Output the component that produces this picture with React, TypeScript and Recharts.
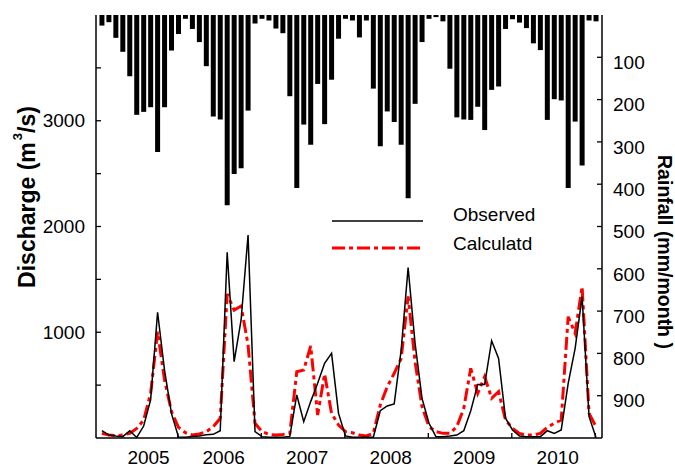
import React from 'react';
import { ComposedChart, Bar, Line, XAxis, YAxis, Legend } from 'recharts';

// month index 0..71 (monthly series, 2005 .. 2010)
const monthIndex = Array.from({ length: 72 }, (_, i) => i);

const rainfall = [
  25, 17, 54, 87, 145, 236, 229, 218, 324, 218, 84, 45,
  9, 33, 64, 121, 240, 247, 450, 376, 362, 226, 20, 9,
  13, 32, 43, 192, 409, 259, 307, 163, 258, 153, 56, 9,
  13, 53, 13, 174, 310, 228, 253, 307, 433, 210, 64, 9,
  5, 15, 127, 242, 247, 248, 217, 272, 177, 169, 33, 10,
  18, 31, 67, 83, 248, 199, 202, 409, 252, 356, 13, 15,
];

const observed = [
  69, 28, 19, 13, 69, 5, 113, 360, 1189, 640, 230, 10,
  8, 15, 20, 30, 35, 69, 1756, 722, 1116, 1920, 60, 13,
  8, 8, 8, 15, 407, 154, 344, 517, 706, 800, 233, 20,
  8, 8, 8, 8, 258, 303, 322, 832, 1611, 895, 375, 139,
  13, 13, 19, 28, 69, 258, 507, 507, 920, 753, 186, 76,
  19, 13, 13, 13, 69, 44, 76, 517, 848, 1336, 202, 5,
];

const calculated = [
  44, 28, 22, 28, 44, 91, 170, 422, 1005, 548, 249, 101,
  50, 28, 38, 60, 107, 186, 1362, 1210, 1248, 880, 139, 60,
  34, 28, 34, 44, 627, 643, 870, 217, 605, 233, 123, 60,
  50, 28, 19, 44, 312, 485, 612, 753, 1340, 720, 296, 107,
  60, 44, 44, 107, 281, 659, 422, 580, 375, 438, 170, 91,
  44, 28, 28, 44, 101, 139, 170, 1147, 990, 1431, 233, 107,
];

const yearLabels = ['2005', '2006', '2007', '2008', '2009', '2010'];
const yearLabelPos = [6.7, 17.5, 29.5, 41.5, 53.5, 65.5];
const yearTickPos = [10.9, 22.9, 34.9, 46.9, 58.9, 70.9];
const dischargeTicks = [500, 1000, 1500, 2000, 2500, 3000, 3500];
const rainTicks = [100, 200, 300, 400, 500, 600, 700, 800, 900];

const data = monthIndex.map((m, i) => ({
  m,
  rain: rainfall[i],
  obs: observed[i],
  calc: calculated[i],
}));

const FONT = '"Liberation Sans", Arial, Helvetica, sans-serif';
const xDomain = [-0.85, 71.86];
const xTicks = [...yearLabelPos, ...yearTickPos].sort((a, b) => a - b);
const RED_DASH = '13 4 4 4';

const XTick = (props: any) => {
  const { x, y, payload } = props;
  const v = payload.value;
  const li = yearLabelPos.indexOf(v);
  if (li >= 0) {
    return (
      <text x={x} y={y + 19} dy="0.355em" textAnchor="middle" fontSize={19} fontFamily={FONT} fill="#000">
        {yearLabels[li]}
      </text>
    );
  }
  return <line x1={x} x2={x} y1={y} y2={y - 5} stroke="#000" strokeWidth={1.3} />;
};

const LeftTick = (props: any) => {
  const { x, y, payload } = props;
  const v = payload.value;
  return (
    <g>
      <line x1={x} x2={x + 5} y1={y} y2={y} stroke="#000" strokeWidth={1.3} />
      {v % 1000 === 0 ? (
        <text x={x - 11} y={y} dy="0.355em" textAnchor="end" fontSize={19} fontFamily={FONT} fill="#000">
          {v}
        </text>
      ) : null}
    </g>
  );
};

const RightTick = (props: any) => {
  const { x, y, payload } = props;
  return (
    <g>
      <line x1={x - 5} x2={x} y1={y} y2={y} stroke="#000" strokeWidth={1.3} />
      <text x={x + 11} y={y + 5} dy="0.355em" textAnchor="start" fontSize={19} fontFamily={FONT} fill="#000">
        {payload.value}
      </text>
    </g>
  );
};

const LeftTitle = () => (
  <text
    x={27}
    y={197}
    transform="rotate(-90 27 197)"
    textAnchor="middle"
    dominantBaseline="central"
    fontSize={23}
    fontWeight="bold"
    fontFamily={FONT}
    fill="#000"
  >
    Discharge (m
    <tspan dx={2} dy={-10} fontSize={13}>3</tspan>
    <tspan dy={10}>/s)</tspan>
  </text>
);

const RightTitle = () => (
  <text
    x={665}
    y={252}
    transform="rotate(90 665 252)"
    textAnchor="middle"
    dominantBaseline="central"
    fontSize={19.5}
    fontWeight="bold"
    fontFamily={FONT}
    fill="#000"
  >
    Rainfall (mm/month )
  </text>
);

const LegendBox = () => (
  <svg width={240} height={64} style={{ display: 'block' }}>
    <line x1={7} x2={98} y1={25} y2={25} stroke="#000" strokeWidth={1.5} />
    <text x={128} y={18} dy="0.355em" fontSize={19} fontFamily={FONT} fill="#000">Observed</text>
    <line x1={7} x2={98} y1={52} y2={52} stroke="#ff0000" strokeWidth={3} strokeDasharray={RED_DASH} />
    <text x={128} y={47.5} dy="0.355em" fontSize={19} fontFamily={FONT} fill="#000">Calculatd</text>
  </svg>
);

export default function App() {
  return (
    <div style={{ position: 'absolute', left: 0, top: 0, width: 675, height: 467, background: '#fff' }}>
      <ComposedChart width={675} height={467} data={data} margin={{ top: 15, right: 0, bottom: 0, left: 0 }}>
        <XAxis
          xAxisId="top"
          orientation="top"
          type="number"
          dataKey="m"
          domain={xDomain}
          allowDataOverflow
          height={0}
          tick={false}
          tickLine={false}
          axisLine={{ stroke: '#000', strokeWidth: 1.5 }}
        />
        <XAxis
          xAxisId="x"
          orientation="bottom"
          type="number"
          dataKey="m"
          domain={xDomain}
          allowDataOverflow
          ticks={xTicks}
          interval={0}
          height={29}
          tickSize={0}
          tickMargin={0}
          tickLine={false}
          tick={<XTick />}
          axisLine={{ stroke: '#000', strokeWidth: 1.5 }}
        />
        <YAxis
          yAxisId="q"
          orientation="left"
          type="number"
          domain={[0, 4000]}
          allowDataOverflow
          ticks={dischargeTicks}
          interval={0}
          width={96}
          tickSize={0}
          tickMargin={0}
          tickLine={false}
          tick={<LeftTick />}
          axisLine={{ stroke: '#000', strokeWidth: 1.5 }}
          label={<LeftTitle />}
        />
        <YAxis
          yAxisId="rain"
          orientation="right"
          type="number"
          reversed
          domain={[0, 1000]}
          allowDataOverflow
          ticks={rainTicks}
          interval={0}
          width={73}
          tickSize={0}
          tickMargin={0}
          tickLine={false}
          tick={<RightTick />}
          axisLine={{ stroke: '#000', strokeWidth: 1.5 }}
          label={<RightTitle />}
        />
        <Bar dataKey="rain" xAxisId="x" yAxisId="rain" fill="#000" barSize={5} isAnimationActive={false} />
        <Line
          type="linear"
          dataKey="calc"
          xAxisId="x"
          yAxisId="q"
          stroke="#ff0000"
          strokeWidth={3}
          strokeDasharray={RED_DASH}
          dot={false}
          activeDot={false}
          isAnimationActive={false}
        />
        <Line
          type="linear"
          dataKey="obs"
          xAxisId="x"
          yAxisId="q"
          stroke="#000"
          strokeWidth={1.5}
          dot={false}
          activeDot={false}
          isAnimationActive={false}
        />
        <Legend
          layout="vertical"
          align="center"
          verticalAlign="middle"
          wrapperStyle={{ left: 325, top: 196, width: 240, height: 64 }}
          content={() => <LegendBox />}
        />
      </ComposedChart>
    </div>
  );
}
